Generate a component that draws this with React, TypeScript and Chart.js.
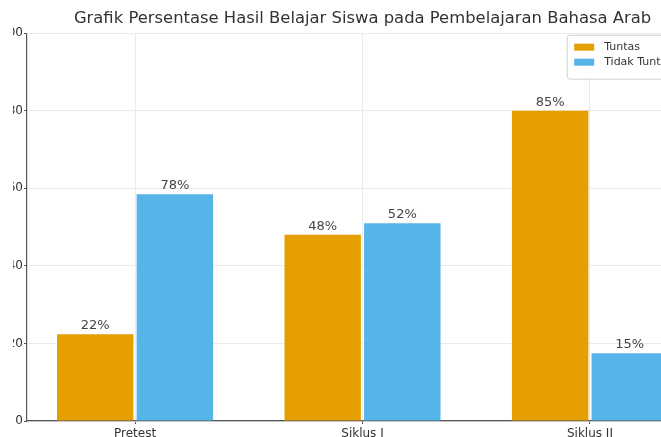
import React, { useEffect, useRef } from 'react';
import { Chart, registerables } from 'chart.js';

Chart.register(...registerables);

const categories = ['Pretest', 'Siklus I', 'Siklus II'];
const seriesNames = ['Tuntas', 'Tidak Tuntas'];
// bar heights as drawn in the picture
const tuntasValues = [22.4, 48, 80];
const tidakTuntasValues = [58.5, 51, 17.5];
// percentage labels printed above the bars
const tuntasLabels = ['22%', '48%', '85%'];
const tidakTuntasLabels = ['78%', '52%', '15%'];
const yMin = 0;
const yMax = 100;
const yStep = 20;
const xMargin = 0.475;
const titleText = 'Grafik Persentase Hasil Belajar Siswa pada Pembelajaran Bahasa Arab';

const ORANGE = '#E69F00';
const BLUE = '#56B4E9';
const FONT = "'DejaVu Sans', sans-serif";

const valueLabelPlugin = {
  id: 'valueLabels',
  afterDatasetsDraw(chart: any) {
    const ctx = chart.ctx;
    const labelSets = [tuntasLabels, tidakTuntasLabels];
    ctx.save();
    ctx.font = `13px ${FONT}`;
    ctx.fillStyle = '#444';
    ctx.textAlign = 'center';
    ctx.textBaseline = 'alphabetic';
    chart.data.datasets.forEach((_: any, di: number) => {
      const meta = chart.getDatasetMeta(di);
      meta.data.forEach((el: any, i: number) => {
        ctx.fillText(labelSets[di][i], el.x, el.y - 5);
      });
    });
    ctx.restore();
  },
};

const boxLegendPlugin = {
  id: 'boxLegend',
  afterDraw(chart: any) {
    const ctx = chart.ctx;
    const area = chart.chartArea;
    const colors = [ORANGE, BLUE];
    ctx.save();
    ctx.font = `11px ${FONT}`;
    const maxW = Math.max(...seriesNames.map((n) => ctx.measureText(n).width));
    const padL = 7;
    const patchW = 20;
    const patchH = 7;
    const gap = 10;
    const rowH = 15;
    const boxW = padL + patchW + gap + maxW + 7;
    const boxH = 8 + rowH * seriesNames.length + 6;
    const x = area.right - 18 - boxW;
    const y = area.top + 2;
    ctx.beginPath();
    const r = 3;
    ctx.moveTo(x + r, y);
    ctx.lineTo(x + boxW - r, y);
    ctx.quadraticCurveTo(x + boxW, y, x + boxW, y + r);
    ctx.lineTo(x + boxW, y + boxH - r);
    ctx.quadraticCurveTo(x + boxW, y + boxH, x + boxW - r, y + boxH);
    ctx.lineTo(x + r, y + boxH);
    ctx.quadraticCurveTo(x, y + boxH, x, y + boxH - r);
    ctx.lineTo(x, y + r);
    ctx.quadraticCurveTo(x, y, x + r, y);
    ctx.closePath();
    ctx.fillStyle = 'rgba(255,255,255,0.85)';
    ctx.fill();
    ctx.strokeStyle = '#d0d0d0';
    ctx.lineWidth = 1;
    ctx.stroke();
    seriesNames.forEach((name, i) => {
      const cy = y + 12 + i * rowH;
      ctx.fillStyle = colors[i];
      ctx.fillRect(x + padL, cy - patchH / 2, patchW, patchH);
      ctx.fillStyle = '#333';
      ctx.textAlign = 'left';
      ctx.textBaseline = 'middle';
      ctx.fillText(name, x + padL + patchW + gap, cy);
    });
    ctx.restore();
  },
};

export default function App() {
  const canvasRef = useRef<HTMLCanvasElement | null>(null);

  useEffect(() => {
    if (!canvasRef.current) return;
    const chart = new Chart(canvasRef.current, {
      type: 'bar',
      data: {
        datasets: [
          {
            label: seriesNames[0],
            data: tuntasValues.map((v, i) => ({ x: i, y: v })),
            backgroundColor: ORANGE,
            categoryPercentage: 0.7,
            barPercentage: 0.96,
          },
          {
            label: seriesNames[1],
            data: tidakTuntasValues.map((v, i) => ({ x: i, y: v })),
            backgroundColor: BLUE,
            categoryPercentage: 0.7,
            barPercentage: 0.96,
          },
        ],
      },
      options: {
        responsive: false,
        animation: false,
        layout: { padding: { left: 0, right: 22, top: 0, bottom: 0 } },
        plugins: {
          legend: { display: false },
          tooltip: { enabled: false },
          title: {
            display: true,
            text: titleText,
            fullSize: false,
            color: '#333',
            font: { family: FONT, size: 16.4, weight: 'normal', lineHeight: 1.2 },
            padding: { top: 9, bottom: 4.5 },
          },
        },
        scales: {
          x: {
            type: 'linear',
            offset: false,
            min: -xMargin,
            max: categories.length - 1 + xMargin,
            grid: {
              offset: false,
              color: '#ebebeb',
              tickLength: 3,
              tickColor: '#555',
            },
            border: { color: '#555', width: 1.2 },
            afterBuildTicks: (scale: any) => {
              scale.ticks = categories.map((_, i) => ({ value: i }));
            },
            ticks: {
              color: '#333',
              padding: 3,
              maxRotation: 0,
              autoSkip: false,
              includeBounds: false,
              font: { family: FONT, size: 12 },
              callback: (value: any) => categories[Math.round(Number(value))] ?? '',
            },
            afterFit: (scale: any) => {
              scale.height = 49;
            },
          },
          y: {
            min: yMin,
            max: yMax,
            grid: { color: '#ebebeb', tickLength: 3, tickColor: '#555' },
            border: { color: '#555', width: 1.2 },
            ticks: {
              stepSize: yStep,
              color: '#333',
              padding: 1,
              font: { family: FONT, size: 12 },
            },
            afterFit: (scale: any) => {
              scale.width = 67;
            },
          },
        },
      },
      plugins: [valueLabelPlugin, boxLegendPlugin],
    });
    return () => chart.destroy();
  }, []);

  return (
    <div
      style={{
        position: 'fixed',
        left: 0,
        top: 0,
        width: 661,
        height: 437,
        background: '#fff',
      }}
    >
      <div
        style={{
          position: 'absolute',
          left: 13,
          top: 0,
          width: 648,
          height: 437,
          overflow: 'hidden',
        }}
      >
        <canvas
          ref={canvasRef}
          width={760}
          height={470}
          style={{ position: 'absolute', left: -53, top: 0 }}
        />
      </div>
    </div>
  );
}
